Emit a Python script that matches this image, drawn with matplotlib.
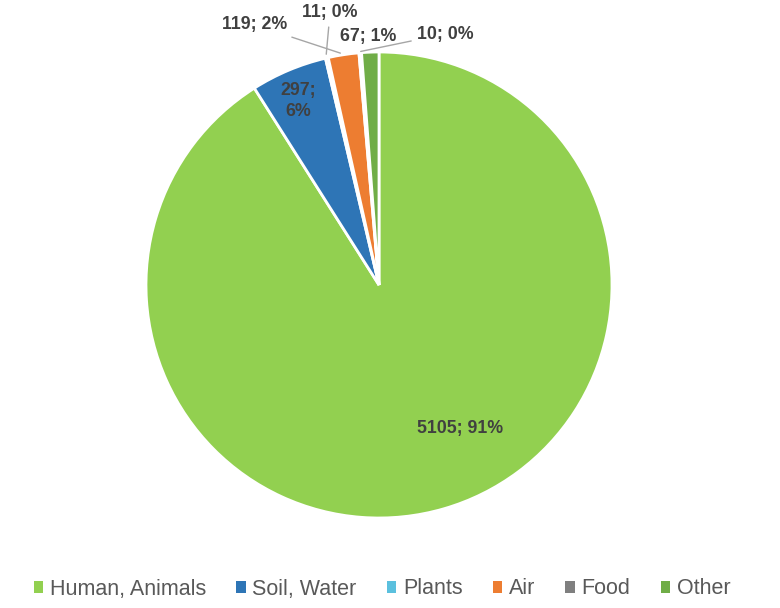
import matplotlib.pyplot as plt
from matplotlib.patches import Patch

plt.rcParams['font.family'] = ['Liberation Sans', 'DejaVu Sans']

categories = ['Human, Animals', 'Soil, Water', 'Plants', 'Air', 'Food', 'Other']
values = [5105, 297, 11, 119, 10, 67]
labels = ['5105; 91%', '297;\n6%', '11; 0%', '119; 2%', '10; 0%', '67; 1%']
colors = ['#92D050', '#2E75B6', '#5BC0DE', '#ED7D31', '#7F7F7F', '#70AD47']

W, H = 780, 608
CX, CY, R = 379, 285, 233

fig = plt.figure(figsize=(7.8, 6.08), dpi=100)
ax = fig.add_axes([(CX - R) / W, (H - CY - R) / H, 2 * R / W, 2 * R / H])

wedges, _ = ax.pie(values, colors=colors, startangle=90, counterclock=False,
                   wedgeprops=dict(edgecolor='white', linewidth=2))
ax.set_xlim(-1, 1)
ax.set_ylim(-1, 1)
ax.axis('off')


def d(px, py):
    return ((px - CX) / R, (CY - py) / R)


txt = dict(color='#404040', fontsize=12.8, fontweight='bold', ha='center', va='center')
line = dict(arrowstyle='-', color='#A6A6A6', lw=1)

# inside labels
ax.text(*d(460, 428), labels[0], **txt)
ax.text(*d(298, 101), labels[1], linespacing=1.35, **txt)

# outside labels with leader lines
ax.annotate(labels[3], xy=d(343, 54), xytext=d(255, 25), arrowprops=line, **txt)
ax.annotate(labels[2], xy=d(326, 57), xytext=d(330, 13), arrowprops=line, **txt)
ax.annotate(labels[4], xy=d(358, 52), xytext=d(445, 34), arrowprops=line, **txt)
ax.text(*d(368, 37), labels[5], **txt)

handles = [Patch(facecolor=c, edgecolor='none') for c in colors]
fig.legend(handles, categories, loc='center', bbox_to_anchor=(382 / W, 1 - 589 / H),
           ncol=6, frameon=False, fontsize=15.5, handlelength=0.45, handleheight=0.45,
           handletextpad=0.3, columnspacing=1.4, labelcolor='#595959')

fig.savefig('out.png', dpi=100)
